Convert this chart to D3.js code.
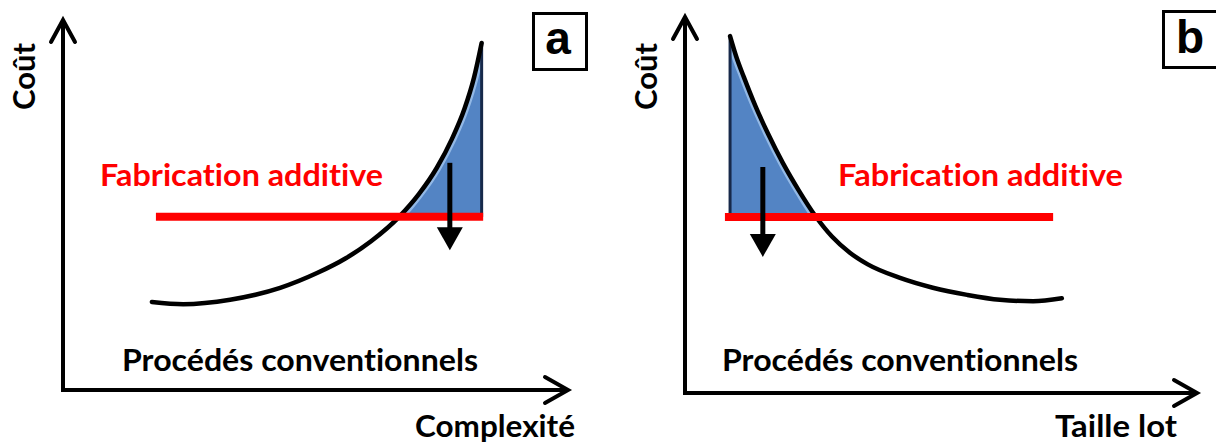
<!DOCTYPE html>
<html><head><meta charset="utf-8">
<script src="https://cdn.jsdelivr.net/npm/d3@7"></script>
<style>html,body{margin:0;padding:0;background:#fff}svg{display:block}text{font-variant-ligatures:none;font-feature-settings:"liga" 0,"clig" 0}</style>
</head><body><svg id="c" width="1216" height="445"></svg>
<script>
// ---------- data (abstract units: 0..100 along each axis) ----------
const curveA = [[17.6,23.8],[23.8,23.2],[33.1,24.4],[43.0,27.6],[50.3,31.6],[56.0,35.6],[61.0,40.2],[66.7,47.0],[70.5,53.0],[74.0,60.0],[77.0,67.8],[79.5,76.0],[81.4,84.5],[82.9,93.8]];
const curveB = [[8.8,94.9],[10.0,89.5],[11.5,84.0],[13.7,76.5],[16.2,69.0],[19.1,61.2],[22.3,53.7],[25.4,47.2],[28.7,41.6],[32.2,37.3],[35.7,34.2],[42.0,30.6],[48.4,28.0],[55.1,26.1],[61.5,24.8],[68.0,24.4],[73.6,25.2]];
const additiveLevel = [46.8, 46.8];           // cost of additive manufacturing, panel a / b
const additiveSpanA = [18.4, 83.2];
const additiveSpanB = [7.8, 71.9];
const arrowA = [76.6, 61.4, 37.8];           // x, from y, to y
const arrowB = [15.2, 60.1, 36.2];
const yLabel = "Coût";
const xLabels = ["Complexité", "Taille lot"];
const additiveLabel = "Fabrication additive";
const conventionalLabel = "Procédés conventionnels";
const panelLetters = ["a", "b"];

// ---------- drawing ----------
const svg = d3.select("#c");
const FONT = "Lato, 'Open Sans', sans-serif";
const defs = svg.append("defs");

const panels = [
  { curve: curveA, level: additiveLevel[0], span: additiveSpanA, arrow: arrowA, side: "right",
    x: d3.scaleLinear([0,100],[63,568]), y: d3.scaleLinear([0,100],[390,20]),
    xLabel: xLabels[0], letter: panelLetters[0],
    ylab: [35,110,67], addLab: [100,186,283], convLab: [122,371,356], xlab: [415,437,160],
    box: [533.5,13.5,53,56], letterPos: [558,54] },
  { curve: curveB, level: additiveLevel[1], span: additiveSpanB, arrow: arrowB, side: "left",
    x: d3.scaleLinear([0,100],[685,1197]), y: d3.scaleLinear([0,100],[393,17]),
    xLabel: xLabels[1], letter: panelLetters[1],
    ylab: [657,110,67], addLab: [838,186,285], convLab: [722,371,356], xlab: [1055,437,122],
    box: [1163.5,11.5,60,56], letterPos: [1190,53] }
];

function crossing(pts, level) {
  for (let i = 0; i < pts.length - 1; i++) {
    const [x0,y0] = pts[i], [x1,y1] = pts[i+1];
    if ((y0 - level) * (y1 - level) <= 0 && y0 !== y1) {
      const t = (level - y0) / (y1 - y0);
      return { i, p: [x0 + t*(x1-x0), level] };
    }
  }
  return null;
}

panels.forEach((P, k) => {
  const g = svg.append("g");
  const x = P.x, y = P.y;
  const cv = d3.curveMonotoneX;

  // shaded saving area
  const c = crossing(P.curve, P.level);
  let shadePts;
  if (P.side === "right") shadePts = [c.p, ...P.curve.slice(c.i+1)];
  else shadePts = [...P.curve.slice(0, c.i+1), c.p];
  const area = d3.area().x(d => x(d[0])).y0(y(P.level)).y1(d => y(d[1])).curve(cv);
  const line = d3.line().x(d => x(d[0])).y(d => y(d[1])).curve(cv);
  defs.append("clipPath").attr("id", "shade" + k).append("path").attr("d", area(shadePts));
  g.append("path").attr("d", area(shadePts)).attr("fill", "#5384c4").attr("stroke", "none");
  // light inner highlight along the curve, inside the shaded area
  g.append("path").attr("d", line(shadePts)).attr("fill","none").attr("stroke","#93b9e6")
    .attr("stroke-width",9).attr("clip-path", `url(#shade${k})`);
  // dark vertical edge of the shaded area
  const edgeX = P.side === "right" ? shadePts[shadePts.length-1][0] : shadePts[0][0];
  const edgeTop = P.side === "right" ? shadePts[shadePts.length-1][1] : shadePts[0][1];
  g.append("line").attr("x1", x(edgeX)).attr("x2", x(edgeX)).attr("y1", y(edgeTop)).attr("y2", y(P.level))
    .attr("stroke", "#17294a").attr("stroke-width", 3);

  // conventional cost curve
  g.append("path").attr("d", line(P.curve)).attr("fill","none").attr("stroke","#000")
    .attr("stroke-width",4.5).attr("stroke-linecap","round");

  // additive cost level
  g.append("line").attr("x1", x(P.span[0])).attr("x2", x(P.span[1]))
    .attr("y1", y(P.level)).attr("y2", y(P.level)).attr("stroke","#ff0000").attr("stroke-width",8);

  // downward arrow
  const [ax, ay0, ay1] = P.arrow;
  g.append("line").attr("x1", x(ax)).attr("x2", x(ax)).attr("y1", y(ay0)).attr("y2", y(ay1) - 18)
    .attr("stroke","#000").attr("stroke-width",5);
  g.append("path").attr("d", `M${x(ax)-13},${y(ay1)-23} L${x(ax)+13},${y(ay1)-23} L${x(ax)},${y(ay1)} Z`)
    .attr("fill","#000");

  // axes
  g.append("path").attr("d", `M${x(0)},${y(100)} L${x(0)},${y(0)} L${x(100)},${y(0)}`)
    .attr("fill","none").attr("stroke","#000").attr("stroke-width",4).attr("stroke-linejoin","miter");
  g.append("path").attr("d", `M${x(0)-12},${y(100)+22} L${x(0)},${y(100)} L${x(0)+12},${y(100)+22}`)
    .attr("fill","none").attr("stroke","#000").attr("stroke-width",4).attr("stroke-linecap","round").attr("stroke-linejoin","miter");
  g.append("path").attr("d", `M${x(100)-23},${y(0)-13} L${x(100)},${y(0)} L${x(100)-23},${y(0)+13}`)
    .attr("fill","none").attr("stroke","#000").attr("stroke-width",4).attr("stroke-linecap","round").attr("stroke-linejoin","miter");

  // texts
  const txt = (s, xx, yy, len, col, fs) => g.append("text").attr("x", xx).attr("y", yy)
      .attr("font-family", FONT).attr("font-weight", 700).attr("font-size", fs)
      .attr("fill", col).attr("textLength", len).attr("lengthAdjust", "spacingAndGlyphs").text(s);
  g.append("text").attr("transform", `translate(${P.ylab[0]},${P.ylab[1]}) rotate(-90)`)
    .attr("font-family", FONT).attr("font-weight", 700).attr("font-size", 31).attr("fill","#000")
    .attr("textLength", P.ylab[2]).attr("lengthAdjust","spacingAndGlyphs").text(yLabel);
  txt(additiveLabel, P.addLab[0], P.addLab[1], P.addLab[2], "#ff0000", 31);
  txt(conventionalLabel, P.convLab[0], P.convLab[1], P.convLab[2], "#000", 31);
  txt(P.xLabel, P.xlab[0], P.xlab[1], P.xlab[2], "#000", 30);

  // panel letter box
  g.append("rect").attr("x", P.box[0]).attr("y", P.box[1]).attr("width", P.box[2]).attr("height", P.box[3])
    .attr("fill","#fff").attr("stroke","#000").attr("stroke-width",3);
  g.append("text").attr("x", P.letterPos[0]).attr("y", P.letterPos[1]).attr("text-anchor","middle")
    .attr("font-family","'Liberation Sans', Arial, sans-serif").attr("font-weight",700).attr("font-size",46)
    .attr("fill","#000").text(P.letter);
});
</script></body></html>
